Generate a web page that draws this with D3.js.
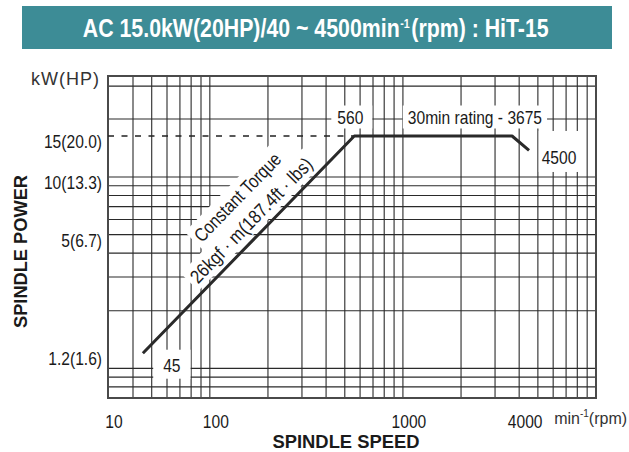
<!DOCTYPE html>
<html><head><meta charset="utf-8">
<script src="https://cdn.jsdelivr.net/npm/d3@7"></script>
<style>
html,body{margin:0;padding:0;background:#fff;}
svg{display:block;}
</style></head><body>
<svg id="c" width="629" height="452"></svg>
<script>
// ---------------- data ----------------
const titleParts = ["AC 15.0kW(20HP)/40 ~ 4500min", "-1", "(rpm) : HiT-15"];
const speedRpm = [45, 560, 3675, 4500];          // spindle speed, min-1
const powerKw  = [1.2, 15, 15, 13];               // spindle power, kW
const xTickValues = [10, 100, 1000, 4000];
const xTickLabels = ["10", "100", "1000", "4000"];
const yTickValues = [15, 10, 5, 1.2];
const yTickLabels = ["15(20.0)", "10(13.3)", "5(6.7)", "1.2(1.6)"];
const xGrid = [40,50,60,70,80,90,100,200,300,400,500,600,700,800,900,1000,2000,3000,4000,5000,6000,7000,8000,9000];
const yGrid = [0.8,0.9,1,2,3,4,5,6,7,8,9,10,20,30];
const xDomain = [10, 40, 10000];
const yDomain = [0.7, 10, 15, 20, 34];
const torqueLines = ["Constant Torque", "26kgf \u00b7 m(187.4ft \u00b7 lbs)"];
const ratingLabel = "30min rating - 3675";
const yUnit = "kW(HP)";
const xUnit = ["min", "-1", "(rpm)"];
const xTitle = "SPINDLE SPEED";
const yTitle = "SPINDLE POWER";

// ---------------- setup ----------------
const FR = "'Liberation Sans',Arial,sans-serif";
const svg = d3.select("#c");
svg.append("rect").attr("width",629).attr("height",452).attr("fill","#fff");

// condensed look (Helvetica Condensed style) from the regular face
function condense(sel, f) {
  sel.each(function(){
    const w = this.getComputedTextLength();
    d3.select(this).attr("textLength", w*(f||0.82)).attr("lengthAdjust","spacingAndGlyphs");
  });
  return sel;
}

// chart's own (non-uniform) log axes
const x = d3.scaleLog().domain(xDomain).range([108, 133, 596]);
const y = d3.scaleLog().domain(yDomain).range([398, 177, 136, 119, 76]);
const x0 = x(xDomain[0]), x1 = x(xDomain[xDomain.length-1]);
const yB = y(yDomain[0]), yT = y(yDomain[yDomain.length-1]);

// ---------------- title bar ----------------
svg.append("rect").attr("x",22).attr("y",6).attr("width",590).attr("height",43)
  .attr("fill","#3d8c96");
const tg = svg.append("g");
let cx = 0;
titleParts.forEach((s,i)=>{
  const sup = i===1;
  const g = tg.append("g");
  const t = g.append("text").attr("x",0).attr("y", sup ? 28 : 37)
    .attr("fill","#fff").attr("font-family",FR).attr("font-weight","bold")
    .attr("font-size", sup ? 13 : 26).text(s);
  const w = t.node().getComputedTextLength() * 0.82;
  g.attr("transform",`translate(${cx},0) scale(0.82,1)`);
  cx += w + (sup ? 1.5 : 0.5);
});
tg.attr("transform",`translate(${316 - cx/2},0)`);

// ---------------- grid ----------------
const grid = svg.append("g").attr("stroke","#2a2a2a").attr("stroke-width",1.1);
grid.selectAll("line.v").data(xGrid).join("line").attr("class","v")
  .attr("x1",d=>x(d)).attr("x2",d=>x(d)).attr("y1",yB).attr("y2",yT);
grid.selectAll("line.h").data(yGrid).join("line").attr("class","h")
  .attr("y1",d=>y(d)).attr("y2",d=>y(d)).attr("x1",x0).attr("x2",x1);
svg.append("rect").attr("x",x0).attr("y",yT).attr("width",x1-x0).attr("height",yB-yT)
  .attr("fill","none").attr("stroke","#4a4a4a").attr("stroke-width",2);

const boxG = svg.append("g");
const lineG = svg.append("g");
const textG = svg.append("g");

function boxed(parentBox, parentText, txt, px, py, anchor, pad, f) {
  const t = parentText.append("text").attr("x",px).attr("y",py)
    .attr("text-anchor",anchor).attr("dominant-baseline","central")
    .attr("font-family",FR).attr("font-size",19).attr("fill","#1a1a1a").text(txt);
  condense(t, f);
  const b = t.node().getBBox();
  parentBox.append("rect").attr("x",b.x-pad.l).attr("y",b.y-pad.t)
    .attr("width",b.width+pad.l+pad.r).attr("height",b.height+pad.t+pad.b).attr("fill","#fff");
  return t;
}

// ---------------- curve ----------------
const pts = speedRpm.map((s,i)=>({s, p: powerKw[i]}));
lineG.append("path").datum([{s:xDomain[0],p:powerKw[1]},{s:speedRpm[1],p:powerKw[1]}])
  .attr("d", d3.line().x(d=>x(d.s)).y(d=>y(d.p)))
  .attr("fill","none").attr("stroke","#222").attr("stroke-width",1.5).attr("stroke-dasharray","6,7.5");
lineG.append("path").datum(pts)
  .attr("d", d3.line().x(d=>x(d.s)).y(d=>y(d.p)))
  .attr("fill","none").attr("stroke","#2a2a2a").attr("stroke-width",3).attr("stroke-linejoin","round");

// ---------------- annotations ----------------
const P0 = [x(speedRpm[0]), y(powerKw[0])], P1 = [x(speedRpm[1]), y(powerKw[1])];
const ang = Math.atan2(P1[1]-P0[1], P1[0]-P0[0]) * 180/Math.PI;
const tA = 0.56, A = [P0[0]+(P1[0]-P0[0])*tA, P0[1]+(P1[1]-P0[1])*tA];
const tr = `translate(${A[0]},${A[1]}) rotate(${ang})`;
const rb = boxG.append("g").attr("transform",tr), rt = textG.append("g").attr("transform",tr);
boxed(rb, rt, torqueLines[0], 8, -41, "middle", {l:4,r:4,t:3,b:3}, 0.83);
boxed(rb, rt, torqueLines[1], 1, -15, "middle", {l:4,r:4,t:3,b:1}, 0.87);

boxed(boxG, textG, String(speedRpm[0]), x(speedRpm[0])+29, y(powerKw[0])+12, "middle", {l:10,r:10,t:5,b:3});
boxed(boxG, textG, String(speedRpm[1]), x(speedRpm[1])-4, y(powerKw[1])-19, "middle", {l:6,r:9,t:1,b:1});
boxed(boxG, textG, ratingLabel, x(speedRpm[2])+30, y(powerKw[2])-19, "end", {l:5,r:5,t:1,b:1});
boxed(boxG, textG, String(speedRpm[3]), x(speedRpm[3])+30, y(powerKw[3])+7, "middle", {l:3,r:5,t:16,b:4});

// ---------------- axes labels ----------------
condense(svg.append("g").selectAll("text").data(xTickValues).join("text")
  .attr("x",d=>x(d)+6).attr("y",428).attr("text-anchor","middle")
  .attr("font-family",FR).attr("font-size",19).attr("fill","#1a1a1a")
  .text((d,i)=>xTickLabels[i]));
condense(svg.append("g").selectAll("text").data(yTickValues).join("text")
  .attr("x",102).attr("y",d=>y(d)+12).attr("text-anchor","end")
  .attr("font-family",FR).attr("font-size",19).attr("fill","#1a1a1a")
  .text((d,i)=>yTickLabels[i]));
svg.append("text").attr("x",100).attr("y",yT+9).attr("text-anchor","end")
  .attr("font-family",FR).attr("font-size",18).attr("fill","#333").attr("letter-spacing",1).text(yUnit);
const xu = svg.append("text").attr("x",x(4000)+35).attr("y",424)
  .attr("font-family",FR).attr("font-size",16).attr("fill","#333");
xu.append("tspan").text(xUnit[0]);
xu.append("tspan").attr("dy",-7).attr("font-size",10).text(xUnit[1]);
xu.append("tspan").attr("dy",7).text(xUnit[2]);

svg.append("text").attr("x",346).attr("y",448).attr("text-anchor","middle")
  .attr("font-family",FR).attr("font-weight","bold").attr("font-size",18).attr("fill","#1a1a1a")
  .attr("textLength",147).attr("lengthAdjust","spacingAndGlyphs").text(xTitle);
svg.append("text").attr("transform","translate(27,251.5) rotate(-90)").attr("text-anchor","middle")
  .attr("font-family",FR).attr("font-weight","bold").attr("font-size",19).attr("fill","#1a1a1a")
  .attr("textLength",153).attr("lengthAdjust","spacingAndGlyphs").text(yTitle);
</script>
</body></html>
